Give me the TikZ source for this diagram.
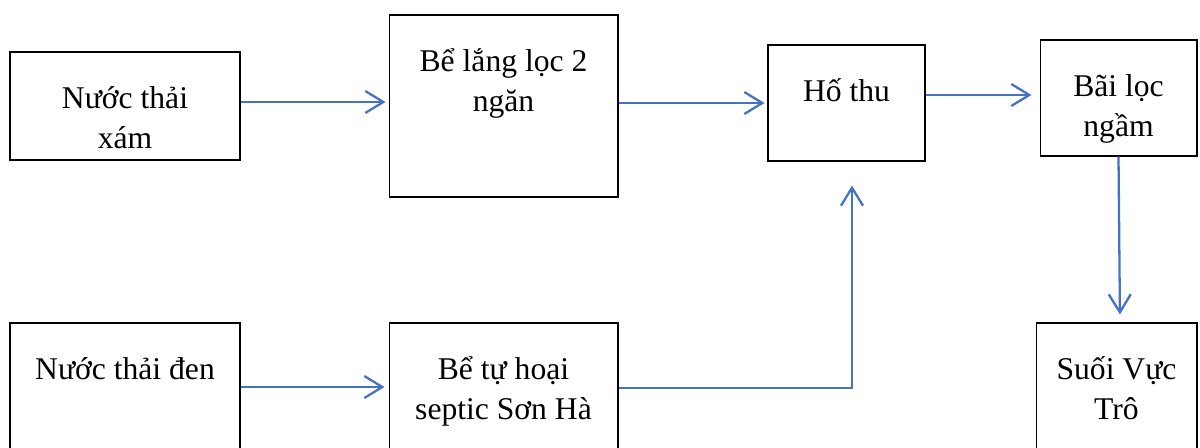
\documentclass[tikz,border=0pt]{standalone}
\usepackage{fontspec}
\setmainfont{Liberation Serif}
\usetikzlibrary{arrows.meta,positioning}
\definecolor{flowblue}{RGB}{68,114,196}

\begin{document}
\begin{tikzpicture}[x=0.02cm,y=-0.02cm,
  box/.style={draw,line width=0.6pt,inner sep=0pt},
  lbl/.style={anchor=base,align=center,inner sep=0pt,font=\fontsize{18}{22.5}\selectfont},
  flow/.style={draw=flowblue,line width=1.3pt,-{Straight Barb[length=0.36cm,width=0.44cm]},shorten >=0.06cm}]

  \useasboundingbox (0,0) rectangle (1200,448);
  \clip (0,0) rectangle (1200,448);

  % boxes
  \node[box,minimum width=4.6cm,minimum height=2.16cm] (xam) at (125,106) {};
  \node[box,minimum width=4.58cm,minimum height=3.64cm] (lang) at (503.5,106) {};
  \node[box,minimum width=3.14cm,minimum height=2.32cm] (hothu) at (846.5,103) {};
  \node[box,minimum width=3.14cm,minimum height=2.32cm] (bai) at (1118.5,98) {};
  \node[box,minimum width=4.6cm,minimum height=2.94cm] (den) at (125,396.5) {};
  \node[box,minimum width=4.58cm,minimum height=2.94cm] (septic) at (503.5,396.5) {};
  \node[box,minimum width=3.22cm,minimum height=2.94cm] (suoi) at (1116.5,396.5) {};

  % texts (base = last line)
  \node[lbl] (xamT) at ([yshift=-1.94cm]xam.north) {Nước thải\\xám};
  \node[lbl] (langT) at ([yshift=-1.94cm]lang.north) {Bể lắng lọc 2\\ngăn};
  \node[lbl] (hothuT) at ([yshift=-1.14cm]hothu.north) {Hố thu};
  \node[lbl] (baiT) at ([yshift=-1.94cm]bai.north) {Bãi lọc\\ngầm};
  \node[lbl] (denT) at ([yshift=-1.14cm]den.north) {Nước thải đen};
  \node[lbl] (septicT) at ([yshift=-1.94cm]septic.north) {Bể tự hoại\\septic Sơn Hà};
  \node[lbl] (suoiT) at ([yshift=-1.94cm]suoi.north) {Suối Vực\\Trô};

  % flows
  \draw[flow] ([yshift=0.08cm]xam.east) -- ([yshift=0.08cm]lang.west);
  \draw[flow] (lang.east |- hothu.west) -- (hothu.west);
  \draw[flow,shorten >=0.16cm] ([yshift=0.06cm]hothu.east |- bai.west) -- ([yshift=0.06cm]bai.west);
  \draw[flow,shorten >=0.16cm] (bai.south) -- ([xshift=0.07cm]suoi.north);
  \draw[flow,shorten >=0.08cm] ([yshift=0.19cm]den.east) -- ([yshift=0.19cm]septic.west);
  \draw[flow,shorten >=0.48cm] ([yshift=0.17cm]septic.east) -| ([xshift=0.11cm]hothu.south);

\end{tikzpicture}
\end{document}
